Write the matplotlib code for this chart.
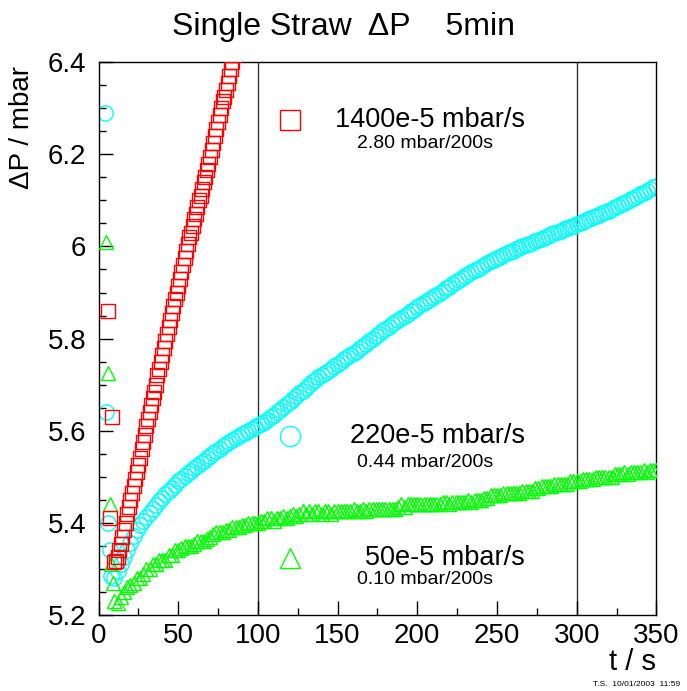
import numpy as np
import matplotlib
matplotlib.use("Agg")
import matplotlib.pyplot as plt
from matplotlib.ticker import MultipleLocator, FuncFormatter

plt.rcParams['font.family'] = ['Liberation Sans', 'DejaVu Sans']

# ---- data ----
# 1400e-5 mbar/s  (red squares), 1 s sampling
t_red = [6, 7, 8.5] + list(range(10, 86))
p_red = [5.86, 5.41, 5.63,
         5.315, 5.318, 5.325, 5.34, 5.355, 5.37, 5.385, 5.40, 5.42, 5.435,
         5.45, 5.465, 5.48, 5.495, 5.51, 5.525, 5.54, 5.56, 5.575, 5.59,
         5.61, 5.625, 5.64, 5.655, 5.67, 5.685, 5.70, 5.72, 5.735, 5.75,
         5.765, 5.78, 5.795, 5.81, 5.825, 5.84, 5.855, 5.87, 5.885, 5.90,
         5.915, 5.93, 5.945, 5.96, 5.975, 5.99, 6.005, 6.02, 6.03, 6.045,
         6.06, 6.07, 6.085, 6.10, 6.11, 6.125, 6.14, 6.15, 6.165, 6.18,
         6.195, 6.21, 6.225, 6.24, 6.255, 6.27, 6.285, 6.30, 6.315, 6.325,
         6.34, 6.355, 6.37, 6.385, 6.40, 6.415]

# 220e-5 mbar/s  (cyan circles), 2 s sampling after the start
t_cyan = [4, 5, 6, 7, 8] + list(range(10, 351, 2))
p_cyan = [6.29, 5.64, 5.40, 5.34, 5.285,
          5.28, 5.295, 5.31, 5.325, 5.34, 5.357, 5.372, 5.384, 5.395, 5.405,
          5.413, 5.421, 5.43, 5.438, 5.447, 5.455, 5.462, 5.469, 5.476, 5.483,
          5.49, 5.496, 5.502, 5.508, 5.513, 5.518, 5.523, 5.529, 5.534, 5.54,
          5.546, 5.551, 5.556, 5.561, 5.566, 5.571, 5.575, 5.58, 5.584, 5.588,
          5.592, 5.596, 5.60, 5.604, 5.608, 5.612, 5.615, 5.619, 5.624, 5.629,
          5.634, 5.64, 5.645, 5.651, 5.657, 5.663, 5.669, 5.675, 5.681, 5.687,
          5.693, 5.699, 5.705, 5.711, 5.716, 5.72, 5.725, 5.73, 5.735, 5.74,
          5.745, 5.75, 5.755, 5.759, 5.764, 5.769, 5.774, 5.779, 5.784, 5.789,
          5.795, 5.80, 5.806, 5.811, 5.816, 5.821, 5.826, 5.831, 5.836, 5.84,
          5.845, 5.85, 5.854, 5.859, 5.863, 5.868, 5.872, 5.877, 5.881, 5.886,
          5.89, 5.895, 5.90, 5.904, 5.909, 5.913, 5.918, 5.922, 5.927, 5.931,
          5.935, 5.94, 5.944, 5.948, 5.952, 5.956, 5.96, 5.964, 5.968, 5.971,
          5.975, 5.978, 5.982, 5.985, 5.988, 5.991, 5.994, 5.997, 6.00, 6.003,
          6.006, 6.008, 6.011, 6.014, 6.017, 6.02, 6.023, 6.026, 6.029, 6.031,
          6.034, 6.037, 6.04, 6.043, 6.045, 6.048, 6.051, 6.054, 6.057, 6.06,
          6.063, 6.066, 6.069, 6.072, 6.075, 6.078, 6.081, 6.085, 6.088, 6.092,
          6.095, 6.099, 6.102, 6.106, 6.109, 6.113, 6.116, 6.12, 6.124, 6.128,
          6.132]

# 50e-5 mbar/s  (green triangles)
t_green = [5, 6, 7, 8, 9] + list(range(10, 351, 2))
p_green = [6.01, 5.725, 5.44, 5.31, 5.27,
           5.23, 5.225, 5.24, 5.25, 5.26, 5.265, 5.27, 5.28, 5.28, 5.29,
           5.30, 5.30, 5.31, 5.31, 5.32, 5.32, 5.32, 5.33, 5.33, 5.34,
           5.34, 5.345, 5.35, 5.35, 5.35, 5.355, 5.36, 5.36, 5.36, 5.365,
           5.37, 5.375, 5.38, 5.38, 5.38, 5.385, 5.385, 5.39, 5.39, 5.39,
           5.395, 5.395, 5.40, 5.40, 5.40, 5.40, 5.405, 5.405, 5.41, 5.41,
           5.405, 5.41, 5.41, 5.415, 5.41, 5.415, 5.42, 5.415, 5.42, 5.425,
           5.42, 5.425, 5.42, 5.425, 5.425, 5.42, 5.425, 5.425, 5.42, 5.425,
           5.425, 5.425, 5.425, 5.425, 5.425, 5.43, 5.425, 5.425, 5.43, 5.425,
           5.43, 5.43, 5.43, 5.43, 5.43, 5.43, 5.43, 5.43, 5.43, 5.435,
           5.44, 5.435, 5.44, 5.44, 5.44, 5.44, 5.44, 5.44, 5.44, 5.44,
           5.44, 5.44, 5.44, 5.445, 5.445, 5.44, 5.445, 5.445, 5.445, 5.445,
           5.445, 5.45, 5.445, 5.45, 5.45, 5.45, 5.455, 5.455, 5.46, 5.46,
           5.46, 5.46, 5.465, 5.465, 5.465, 5.465, 5.465, 5.465, 5.47, 5.47,
           5.47, 5.47, 5.475, 5.475, 5.48, 5.48, 5.48, 5.48, 5.485, 5.485,
           5.485, 5.485, 5.485, 5.49, 5.49, 5.49, 5.49, 5.495, 5.495, 5.495,
           5.495, 5.50, 5.50, 5.50, 5.50, 5.50, 5.50, 5.505, 5.505, 5.505,
           5.51, 5.505, 5.51, 5.51, 5.51, 5.51, 5.515, 5.51, 5.515, 5.515,
           5.515]

rates = ["1400e-5 mbar/s", "220e-5 mbar/s", "50e-5 mbar/s"]
per200 = ["2.80 mbar/200s", "0.44 mbar/200s", "0.10 mbar/200s"]
ref_times = [100, 300]

fig = plt.figure(figsize=(6.87, 6.91), dpi=100)
ax = fig.add_axes([0.1434, 0.110, 0.812, 0.800])

for t in ref_times:
    ax.axvline(t, color='#333333', lw=1.0, zorder=1)

ax.plot(t_cyan, p_cyan, 'o', ms=11, mfc='none', mec='#00ffff', mew=1.0, zorder=2)
ax.plot(t_green, p_green, '^', ms=10, mfc='none', mec='#00ff00', mew=1.0, zorder=3)
ax.plot(t_red, p_red, 's', ms=9.5, mfc='none', mec='#ff0000', mew=1.0, zorder=4)

ax.set_xlim(0, 350)
ax.set_ylim(5.2, 6.4)

ax.xaxis.set_major_locator(MultipleLocator(50))
ax.xaxis.set_minor_locator(MultipleLocator(25))
ax.yaxis.set_major_locator(MultipleLocator(0.2))
ax.yaxis.set_minor_locator(MultipleLocator(0.05))
ax.yaxis.set_major_formatter(FuncFormatter(lambda v, p: '%g' % round(v, 2)))
ax.tick_params(which='both', direction='in', top=False, right=False, labelsize=20)
ax.tick_params(which='major', length=10, width=1)
ax.tick_params(which='minor', length=5, width=1)
ax.tick_params(axis='x', pad=6)
ax.tick_params(axis='y', pad=9)
for s in ax.spines.values():
    s.set_linewidth(1.0)

# legend-like annotation
markers = [('s', '#ff0000'), ('o', '#00ffff'), ('^', '#00ff00')]
ypos = [0.895, 0.3237, 0.1031]
ysub = [0.8535, 0.2767, 0.0633]
for (m, c), lab, sub, y0, y1 in zip(markers, rates, per200, ypos, ysub):
    ax.plot([0.343], [y0], m, ms=14.5, mfc='none', mec=c, mew=1.0,
            transform=ax.transAxes, clip_on=False, zorder=5)
    ax.text(0.7644, y0, lab, transform=ax.transAxes, ha='right', va='center',
            fontsize=19.5)
    ax.text(0.585, y1, sub, transform=ax.transAxes, ha='center', va='center',
            fontsize=14)

fig.text(0.5, 0.961, "Single Straw  \u0394P    5min", ha='center', va='center',
         fontsize=23)
fig.text(0.032, 0.905, "\u0394P / mbar", rotation=90, ha='center', va='top',
         fontsize=20)
fig.text(0.9556, 0.042, "t / s", ha='right', va='center', fontsize=21)
fig.text(0.99, 0.010, "T.S.  10/01/2003  11:59", ha='right', va='center',
         fontsize=6)

fig.savefig("out.png", dpi=100)
